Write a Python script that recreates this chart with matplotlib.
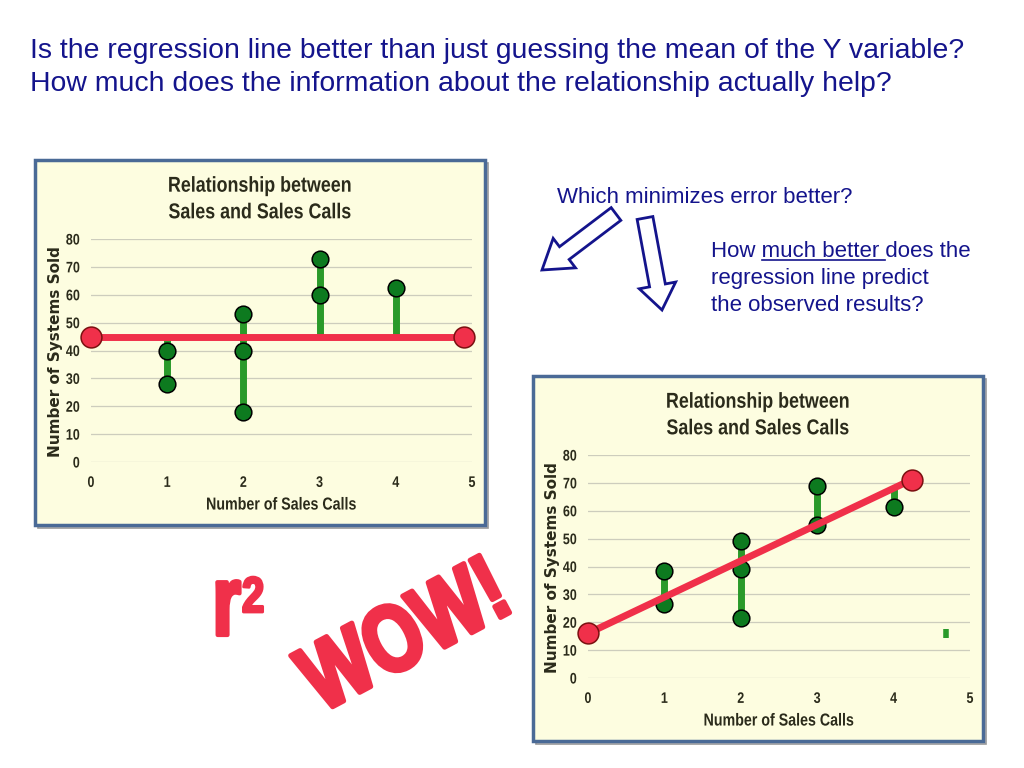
import numpy as np
import matplotlib.pyplot as plt
from matplotlib.patches import Rectangle, FancyArrow
from matplotlib.patheffects import AbstractPathEffect
from matplotlib.transforms import Affine2D

# left chart: observed values against the mean line
left_calls = [1, 1, 2, 2, 2, 3, 3, 4]
left_sold = [40, 28, 53, 40, 18, 73, 60, 62.5]
mean_x = [0, 4.9]
mean_y = [45, 45]

# right chart: observed values against the regression line
right_calls = [1, 1, 2, 2, 2, 3, 3, 4]
right_sold = [38.5, 26.5, 49, 39, 21.5, 69, 55, 61.5]
reg_x = [0, 4.24]
reg_y = [16, 71.2]
stray_x = [4.68]
stray_lo = [14.5]
stray_hi = [17.5]

x_ticks = [0, 1, 2, 3, 4, 5]
y_ticks = [0, 10, 20, 30, 40, 50, 60, 70, 80]

header = ["Is the regression line better than just guessing the mean of the Y variable?",
          "How much does the information about the relationship actually help?"]
chart_title = "Relationship between\nSales and Sales Calls"
x_label = "Number of Sales Calls"
y_label = "Number of Systems Sold"

SANS = ['Liberation Sans', 'DejaVu Sans']
BLUE = '#14148c'
RED = '#f0304a'
TXT = '#2b2b1b'
PANEL = '#fdfde0'


class Condense(AbstractPathEffect):
    """squeeze glyphs horizontally (the slide uses Arial Narrow / Impact)"""
    def __init__(self, sx, ha='center', stroke=0):
        super().__init__()
        self.sx = sx
        self.ha = ha
        self.stroke = stroke

    def draw_path(self, renderer, gc, tpath, affine, rgbFace=None):
        w = tpath.get_extents().x1
        k = {'left': 0.0, 'center': 0.5, 'right': 1.0}[self.ha]
        tr = Affine2D().scale(self.sx, 1).translate((1 - self.sx) * w * k, 0) + affine
        gc0 = renderer.new_gc()
        gc0.copy_properties(gc)
        if self.stroke:
            gc0.set_linewidth(self.stroke)
            gc0.set_foreground(rgbFace)
        renderer.draw_path(gc0, tpath, tr, rgbFace)
        gc0.restore()


fig = plt.figure(figsize=(10.24, 7.68), dpi=100)
fig.patch.set_facecolor('white')

# overlay in pixel units for the slide decorations
ov = fig.add_axes([0, 0, 1, 1], zorder=0)
ov.set_xlim(0, 1024)
ov.set_ylim(768, 0)
ov.axis('off')

panels = [(35, 160), (533, 376)]
for x0, y0 in panels:
    ov.add_patch(Rectangle((x0 + 3, y0 + 3), 450, 365, fill=False,
                           edgecolor='#9a9a9a', lw=1.2))
    ov.add_patch(Rectangle((x0, y0), 450, 365, facecolor=PANEL,
                           edgecolor='#4a6a96', lw=2.5))
    for i, line in enumerate(chart_title.split('\n')):
        ov.text(x0 + 225, y0 + 31.7 + 26.6 * i, line, fontsize=15.5, fontweight='bold',
                color=TXT, family=SANS, ha='center', va='baseline',
                path_effects=[Condense(0.83)])

ov.text(30, 58, header[0], fontsize=20.4, color=BLUE, family=SANS, va='baseline')
ov.text(30, 91, header[1], fontsize=20.4, color=BLUE, family=SANS, va='baseline')

ov.text(557, 203, "Which minimizes error better?", fontsize=16, color=BLUE,
        family=SANS, va='baseline')
q_lines = ["How much better does the", "regression line predict", "the observed results?"]
for i, s in enumerate(q_lines):
    ov.text(711, 257 + 27 * i, s, fontsize=16, color=BLUE, family=SANS, va='baseline')

# underline "much better " by measuring the text
renderer = fig.canvas.get_renderer()
def text_w(s):
    t = ov.text(0, 0, s, fontsize=16, family=SANS)
    w = t.get_window_extent(renderer).width
    t.remove()
    return w
space = text_w("a a") - text_w("aa")
u0 = 711 + text_w("How") + space
u1 = 711 + text_w("How much better") + space
ov.plot([u0, u1], [260, 260], color=BLUE, lw=1.2)

ov.add_patch(FancyArrow(616, 214, -74, 56, width=16, head_width=37, head_length=28,
                        length_includes_head=True, facecolor='white',
                        edgecolor=BLUE, lw=2))
ov.add_patch(FancyArrow(645, 218, 17, 92, width=16, head_width=37, head_length=25,
                        length_includes_head=True, facecolor='white',
                        edgecolor=BLUE, lw=2))

ov.text(241, 635, "r", fontsize=72, fontweight='bold', color=RED, family=SANS,
        ha='right', va='baseline', path_effects=[Condense(0.72, 'right', 3)])
ov.text(242, 612, "2", fontsize=36, fontweight='bold', color=RED, family=SANS,
        ha='left', va='baseline', path_effects=[Condense(0.8, 'left', 2)])
ov.text(408, 639, "WOW!", fontsize=68, fontweight='bold', color=RED, family=SANS,
        rotation=28, rotation_mode='anchor', ha='center', va='center',
        path_effects=[Condense(0.78, 'center', 3.5)])


def draw_chart(ax, calls, sold, line_x, line_y):
    ax.set_facecolor('none')
    ax.set_xlim(0, 5)
    ax.set_ylim(0, 80)
    for sp in ax.spines.values():
        sp.set_visible(False)
    ax.set_xticks(x_ticks)
    ax.set_yticks(y_ticks)
    ax.tick_params(length=0, labelsize=11, labelcolor=TXT)
    ax.tick_params(axis='y', pad=8)
    ax.tick_params(axis='x', pad=10)
    for lbl in ax.get_xticklabels():
        lbl.set_fontfamily(SANS)
        lbl.set_fontweight('bold')
        lbl.set_path_effects([Condense(0.82, 'center')])
    for lbl in ax.get_yticklabels():
        lbl.set_fontfamily(SANS)
        lbl.set_fontweight('bold')
        lbl.set_path_effects([Condense(0.82, 'right')])
    ax.yaxis.grid(True, color='#cdcdbd', lw=0.9)
    ax.set_axisbelow(True)

    calls = np.array(calls)
    sold = np.array(sold)
    for x in np.unique(calls):
        vals = sold[calls == x]
        fit = np.interp(x, line_x, line_y)
        ax.vlines(x, min(vals.min(), fit), max(vals.max(), fit),
                  color='#2a9a2a', lw=5, zorder=2)
    ax.plot(calls, sold, 'o', ms=12, mfc='#0d7a1f', mec='black', mew=1.1, zorder=4)
    ax.plot(line_x, line_y, color=RED, lw=5, zorder=5, solid_capstyle='butt')
    ax.plot(line_x, line_y, 'o', ms=15, mfc=RED, mec='#7a1010', mew=1.1,
            zorder=6, clip_on=False)

    ax.text(0.5, -0.193, x_label, transform=ax.transAxes, ha='center', va='center',
            fontsize=12.5, fontweight='bold', color=TXT, family=SANS,
            path_effects=[Condense(0.82)])
    ax.text(-0.092, 0.493, y_label, transform=ax.transAxes, ha='center', va='center',
            rotation=90, fontsize=11, fontweight='bold', color=TXT,
            family=['DejaVu Sans'])


ax1 = fig.add_axes([91 / 1024, 1 - 462 / 768, 381 / 1024, 223 / 768], zorder=2)
draw_chart(ax1, left_calls, left_sold, mean_x, mean_y)

ax2 = fig.add_axes([588 / 1024, 1 - 678 / 768, 382 / 1024, 223 / 768], zorder=2)
draw_chart(ax2, right_calls, right_sold, reg_x, reg_y)
ax2.vlines(stray_x, stray_lo, stray_hi, color='#2a9a2a', lw=4, zorder=2)

fig.savefig('out.png', dpi=100)
